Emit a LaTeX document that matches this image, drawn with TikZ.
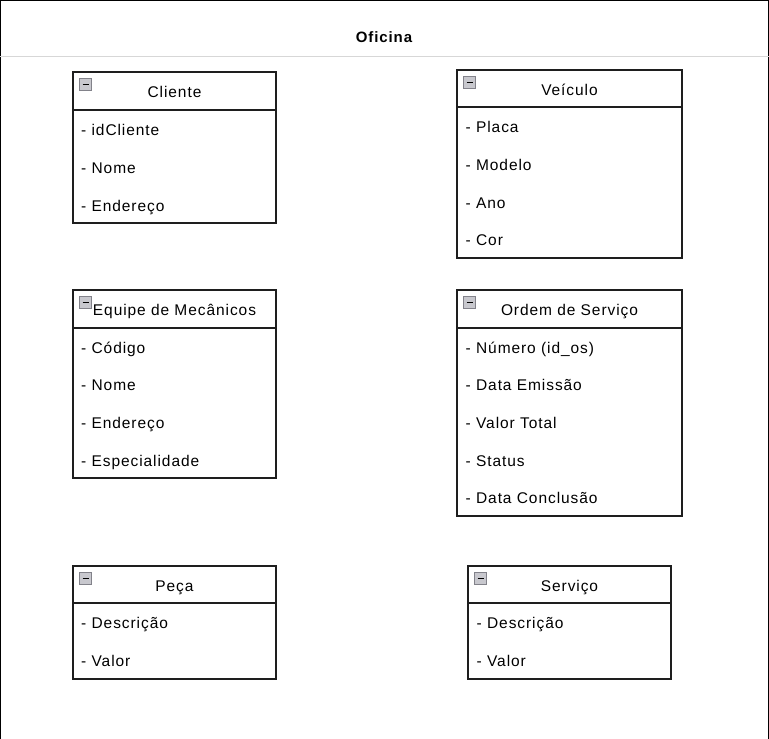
\documentclass[tikz,border=0pt]{standalone}
\usepackage{fontspec}
\setmainfont{Liberation Sans}[LetterSpace=6]
\usepackage{tikz}
\usetikzlibrary{positioning}
\definecolor{frameGray}{RGB}{30,30,30}
\definecolor{sepGray}{RGB}{215,215,215}
\definecolor{iconGray}{RGB}{200,200,206}
\definecolor{iconEdge}{RGB}{130,130,138}

\begin{document}
\begin{tikzpicture}[
        x=1pt, y=-1pt,
        classhead/.style={rectangle, draw=frameGray, line width=1.3pt, anchor=north west,
          inner sep=0pt, outer sep=0pt, text height=14pt, text depth=1pt,
          font=\fontsize{15.5}{18}\selectfont},
        classbody/.style={rectangle, draw=frameGray, line width=1.3pt, inner sep=0pt, outer sep=0pt},
        attr/.style={anchor=west, inner sep=0pt, text height=12.2pt, text depth=1pt,
          font=\fontsize{15.5}{18}\selectfont},
        minusicon/.style={rectangle, draw=iconEdge, fill=iconGray, minimum size=11.5pt,
          inner sep=0pt, line width=0.7pt,
          path picture={\draw[black, line width=1.5pt]
            ([xshift=-3pt]path picture bounding box.center) --
            ([xshift=3pt]path picture bounding box.center);}}
      ]
        \useasboundingbox (0,0) rectangle (769,739);
        % Frame and title
        \draw[black, line width=1.4pt] (0.7,739) -- (0.7,0.7) -- (768.3,0.7) -- (768.3,739);
        \draw[sepGray, line width=1pt] (0,56.5) -- (769,56.5);
        \node[font=\fontsize{15}{18}\selectfont\bfseries] (title) at (384,37.5) {Oficina};
        % Cliente
        \node[classhead, minimum width=203pt, minimum height=38pt] (cliHead) at (73,72) {Cliente};
        \node[classbody, minimum width=203pt, minimum height=113pt, below=0pt of cliHead] (cliBody) {};
        \node[minusicon] (cliIcon) at (85.5,84.5) {};
        \node[attr] (cliA1) at (81,130) {- idCliente};
        \node[attr] (cliA2) at (81,168) {- Nome};
        \node[attr] (cliA3) at (81,206) {- Endereço};
        % Veiculo
        \node[classhead, minimum width=225pt, minimum height=37pt] (veiHead) at (457,70) {Veículo};
        \node[classbody, minimum width=225pt, minimum height=151pt, below=0pt of veiHead] (veiBody) {};
        \node[minusicon] (veiIcon) at (469.5,82.5) {};
        \node[attr] (veiA1) at (465.5,127) {- Placa};
        \node[attr] (veiA2) at (465.5,165) {- Modelo};
        \node[attr] (veiA3) at (465.5,203) {- Ano};
        \node[attr] (veiA4) at (465.5,240) {- Cor};
        % Equipe de Mecanicos
        \node[classhead, minimum width=203pt, minimum height=38pt] (eqpHead) at (73,290) {Equipe de Mecânicos};
        \node[classbody, minimum width=203pt, minimum height=150pt, below=0pt of eqpHead] (eqpBody) {};
        \node[minusicon] (eqpIcon) at (85.5,302.5) {};
        \node[attr] (eqpA1) at (81,348) {- Código};
        \node[attr] (eqpA2) at (81,385) {- Nome};
        \node[attr] (eqpA3) at (81,423) {- Endereço};
        \node[attr] (eqpA4) at (81,461) {- Especialidade};
        % Ordem de Servico
        \node[classhead, minimum width=225pt, minimum height=38pt] (osHead) at (457,290) {Ordem de Serviço};
        \node[classbody, minimum width=225pt, minimum height=188pt, below=0pt of osHead] (osBody) {};
        \node[minusicon] (osIcon) at (469.5,302.5) {};
        \node[attr] (osA1) at (465.5,348) {- Número (id\_os)};
        \node[attr] (osA2) at (465.5,385) {- Data Emissão};
        \node[attr] (osA3) at (465.5,423) {- Valor Total};
        \node[attr] (osA4) at (465.5,461) {- Status};
        \node[attr] (osA5) at (465.5,498) {- Data Conclusão};
        % Peca
        \node[classhead, minimum width=203pt, minimum height=37pt] (pecHead) at (73,566) {Peça};
        \node[classbody, minimum width=203pt, minimum height=76pt, below=0pt of pecHead] (pecBody) {};
        \node[minusicon] (pecIcon) at (85.5,578.5) {};
        \node[attr] (pecA1) at (81,623) {- Descrição};
        \node[attr] (pecA2) at (81,661) {- Valor};
        % Servico
        \node[classhead, minimum width=203pt, minimum height=37pt] (svcHead) at (468,566) {Serviço};
        \node[classbody, minimum width=203pt, minimum height=76pt, below=0pt of svcHead] (svcBody) {};
        \node[minusicon] (svcIcon) at (480.5,578.5) {};
        \node[attr] (svcA1) at (476.5,623) {- Descrição};
        \node[attr] (svcA2) at (476.5,661) {- Valor};
      \end{tikzpicture}
\end{document}
